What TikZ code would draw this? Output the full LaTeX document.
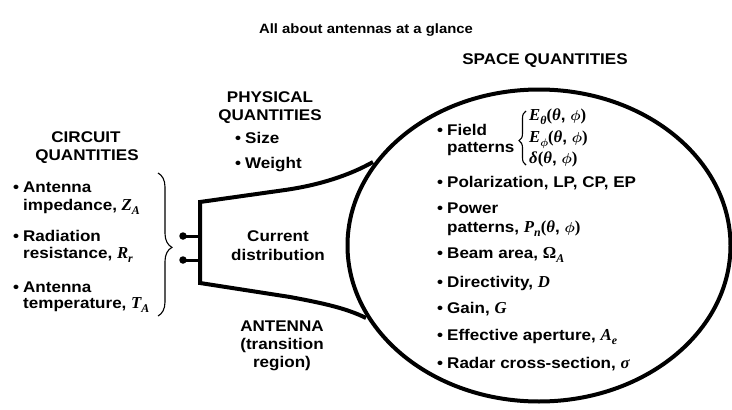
\documentclass[tikz,border=0pt]{standalone}
\usepackage{fontspec}
\setmainfont{Liberation Sans}[FakeStretch=1.1]
\newfontfamily\mathserif{Liberation Serif}[Scale=1.08]
\usetikzlibrary{decorations.pathreplacing}
\newcommand\bodyfont{\fontsize{15.5}{18}\selectfont\bfseries}
\newcommand\headfont{\fontsize{13.5}{16}\selectfont\bfseries}
\newcommand\bul{\llap{\textbullet\hspace{4pt}}}
\newcommand\mv[1]{{\mathserif\bfseries\itshape #1}}
\newcommand\mup[1]{{\mathserif\bfseries #1}}
\newcommand\sbs[1]{\raisebox{-3.5pt}{\fontsize{11}{11}\selectfont\mathserif\bfseries\itshape #1}}
\newcommand\phiv{{\boldmath$\phi$}}
\newcommand\phisub{\raisebox{-3.5pt}{\fontsize{11}{11}\selectfont\boldmath$\phi$}}
\begin{document}
\begin{tikzpicture}[x=1pt,y=-1pt,
  lbl/.style={inner sep=0pt, font=\bodyfont, anchor=base west},
  ctr/.style={inner sep=0pt, font=\bodyfont, anchor=base},
  horn/.style={line width=4pt, line join=miter},
  lead/.style={line width=3pt},
  termdot/.style={circle, fill=black, inner sep=0pt, minimum size=7.5pt},
  curly/.style={decorate, line width=1.1pt},
  oval/.style={line width=4pt}]
\useasboundingbox (0,0) rectangle (732,410);

% titles
\node[ctr, font=\headfont] (title) at (366,33) {All about antennas at a glance};
\node[ctr] (spc) at (545,64.5) {SPACE QUANTITIES};
\node[ctr] (phys1) at (270,102.5) {PHYSICAL};
\node[ctr] (phys2) at (270,120.5) {QUANTITIES};
\node[lbl] (size) at (245,143.5) {\bul Size};
\node[lbl] (weight) at (245,168.5) {\bul Weight};

% circuit quantities
\node[ctr] (circ1) at (86,142.5) {CIRCUIT};
\node[ctr] (circ2) at (87,160.5) {QUANTITIES};
\node[lbl] (imp1) at (23,192.5) {\bul Antenna};
\node[lbl] (imp2) at (23,210.5) {impedance, \mv{Z\sbs{A}}};
\node[lbl] (rad1) at (23,241.5) {\bul Radiation};
\node[lbl] (rad2) at (23,258.5) {resistance, \mv{R\sbs{r}}};
\node[lbl] (tmp1) at (23,292.5) {\bul Antenna};
\node[lbl] (tmp2) at (23,308.5) {temperature, \mv{T\sbs{A}}};

% antenna
\node[ctr] (cur1) at (278,241.5) {Current};
\node[ctr] (cur2) at (278,260) {distribution};
\node[ctr] (ant1) at (282,331) {ANTENNA};
\node[ctr] (ant2) at (282,349) {(transition};
\node[ctr] (ant3) at (282,367) {region)};

% space quantities
\node[lbl] (field1) at (447,135.5) {\bul Field};
\node[lbl] (field2) at (447,152.5) {patterns};
\node[lbl] (e1) at (529,120.5) {\mv{E\sbs{θ}}\mup{(}\mv{θ}, \phiv\mup{)}};
\node[lbl] (e2) at (529,142.5) {\mv{E}\phisub\mup{(}\mv{θ}, \phiv\mup{)}};
\node[lbl] (e3) at (529,163.5) {\mv{δ}\mup{(}\mv{θ}, \phiv\mup{)}};
\node[lbl] (pol) at (447,187.5) {\bul Polarization, LP, CP, EP};
\node[lbl] (pow1) at (447,213.5) {\bul Power};
\node[lbl] (pow2) at (447,232.5) {patterns, \mv{P\sbs{n}}\mup{(}\mv{θ}, \phiv\mup{)}};
\node[lbl] (beam) at (447,258.5) {\bul Beam area, \mup{Ω}\sbs{A}};
\node[lbl] (dir) at (447,287.5) {\bul Directivity, \mv{D}};
\node[lbl] (gain) at (447,313.5) {\bul Gain, \mv{G}};
\node[lbl] (eff) at (447,340.5) {\bul Effective aperture, \mv{A\sbs{e}}};
\node[lbl] (rcs) at (447,368.5) {\bul Radar cross-section, \mv{σ}};

% ellipse
\draw[oval] (539,245.5) ellipse [x radius=191.5, y radius=156];

% horn
\coordinate (htop) at (373,162);
\coordinate (hk1) at (285,190);
\coordinate (hc1) at (200,202);
\coordinate (hc2) at (200,283);
\coordinate (hk2) at (290,297);
\coordinate (hbot) at (366,318);
\draw[horn] (htop) .. controls (350,175) and (320,185) .. (hk1) -- (hc1) -- (hc2) -- (hk2) .. controls (322,303) and (346,308) .. (hbot);

% terminals
\node[termdot] (t1) at (183,236) {};
\node[termdot] (t2) at (183,260) {};
\coordinate (f1) at (200,236);
\coordinate (f2) at (200,260);
\draw[lead] (t1.center) -- (f1);
\draw[lead] (t2.center) -- (f2);

% braces
\coordinate (cb1) at (158,173);
\coordinate (cb2) at (158,316);
\draw[curly, decoration={brace, amplitude=14pt, aspect=0.52}] (cb1) -- (cb2);
\coordinate (fb1) at (526,165);
\coordinate (fb2) at (526,111);
\draw[curly, decoration={brace, amplitude=7pt, aspect=0.45}] (fb1) -- (fb2);
\end{tikzpicture}
\end{document}
